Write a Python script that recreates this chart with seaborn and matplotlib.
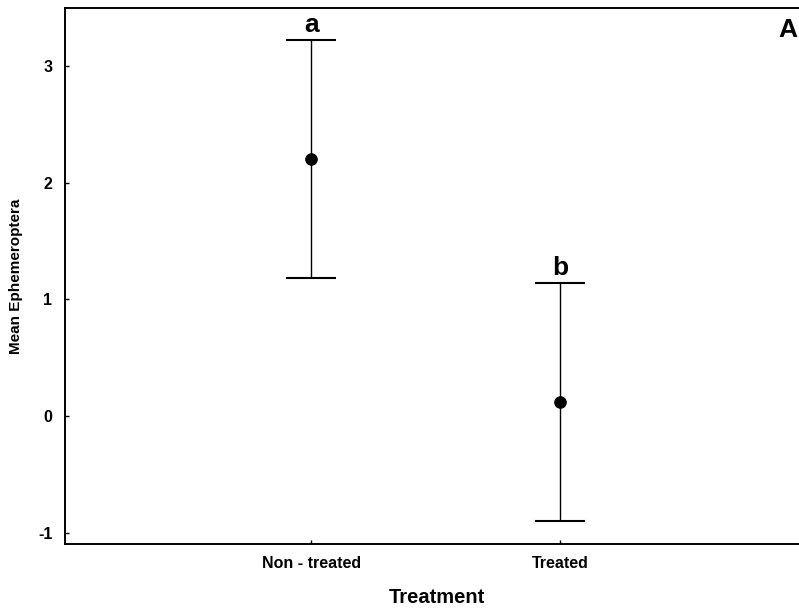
import matplotlib
matplotlib.use("Agg")
import matplotlib.pyplot as plt
import seaborn as sns
import pandas as pd

categories = ["Non - treated", "Treated"]
means = [2.2, 0.12]
errors = [1.02, 1.02]
letters = ["a", "b"]

sns.set_theme(style="ticks")
plt.rcParams['font.family'] = ['Liberation Sans', 'DejaVu Sans']
plt.rcParams['text.color'] = 'black'
plt.rcParams['axes.labelcolor'] = 'black'
plt.rcParams['xtick.color'] = 'black'
plt.rcParams['ytick.color'] = 'black'

fig = plt.figure(figsize=(7.99, 6.11), dpi=100)
ax = fig.add_axes([65/799, 1 - 544/611, 744/799, 536/611])

df = pd.DataFrame({"Treatment": categories, "Mean": means, "Err": errors})
xs = list(range(len(categories)))
ax.errorbar(xs, df["Mean"], yerr=df["Err"], fmt="none", ecolor="black",
            elinewidth=1.0, capsize=18, capthick=1.5, zorder=2)
sns.scatterplot(x=xs, y=df["Mean"], ax=ax, color="black", s=70, zorder=3,
                edgecolor="black", legend=False)
for x, m, e, l in zip(xs, means, errors, letters):
    ax.text(x, m + e + 0.03, l, ha="center", va="bottom", fontsize=19,
            fontweight="bold")

ax.set_xlim(-0.99, 2.0)
ax.set_ylim(-1.095, 3.497)
ax.set_xticks(xs)
ax.set_xticklabels(categories, fontsize=11.5, fontweight="bold")
ax.set_yticks([-1, 0, 1, 2, 3])
ax.set_yticklabels(["-1", "0", "1", "2", "3"], fontsize=11.5, fontweight="bold")
ax.tick_params(direction="in", length=3, width=1, color="black", pad=9)
for s in ax.spines.values():
    s.set_visible(True)
    s.set_color("black")
    s.set_linewidth(1.4)
ax.set_xlabel("Treatment", fontsize=14.5, fontweight="bold", labelpad=12)
ax.set_ylabel("Mean Ephemeroptera", fontsize=11, fontweight="bold", va="center")
ax.yaxis.set_label_coords((16 - 65) / 744, 0.5)
fig.text(778/799, 1 - 30/611, "A", fontsize=19, fontweight="bold", ha="left", va="center")

fig.savefig("out.png", dpi=100)
